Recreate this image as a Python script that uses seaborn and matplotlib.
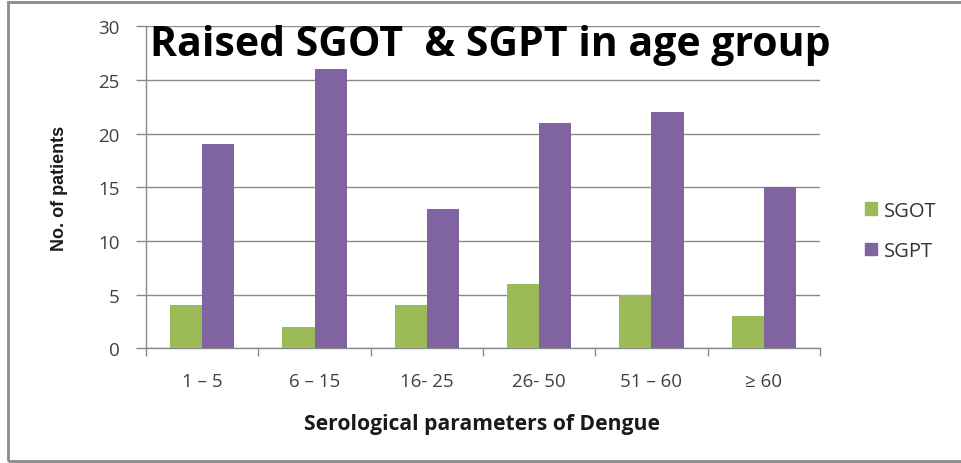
import matplotlib
matplotlib.use("Agg")
import matplotlib.pyplot as plt
import matplotlib.patches as mpatches
from matplotlib import font_manager
import seaborn as sns
import pandas as pd

categories = ["1 \u2013 5", "6 \u2013 15", "16- 25", "26- 50", "51 \u2013 60", "\u2265 60"]
sgot = [4, 2, 4, 6, 5, 3]
sgpt = [19, 26, 13, 21, 22, 15]
series = ["SGOT", "SGPT"]
colors = ["#9BBB59", "#8064A2"]
yticks = [0, 5, 10, 15, 20, 25, 30]

df = pd.DataFrame({
    "cat": categories * 2,
    "val": sgot + sgpt,
    "series": [series[0]] * len(categories) + [series[1]] * len(categories),
})

sns.set_style("white")
plt.rcParams["font.family"] = ["Open Sans", "DejaVu Sans"]

available = {f.name for f in font_manager.fontManager.ttflist}
if "Liberation Sans Narrow" in available:
    ylab_family, ylab_size = ["Liberation Sans Narrow", "DejaVu Sans"], 16.8
else:
    ylab_family, ylab_size = ["Liberation Sans", "DejaVu Sans"], 13

fig = plt.figure(figsize=(9.62, 4.64), dpi=100)
ax = fig.add_axes([146 / 962, 1 - 349.3 / 464, (820 - 146) / 962, (349.3 - 27.3) / 464])

sns.barplot(data=df, x="cat", y="val", hue="series", palette=colors, width=0.57,
            gap=0, ax=ax, saturation=1, legend=False, edgecolor="none", zorder=3)

ax.set_ylim(0, 30)
ax.set_xlim(-0.5, len(categories) - 0.5)
ax.set_yticks(yticks)
ax.set_yticklabels([str(t) for t in yticks], fontsize=13.5, color="#404040")
ax.yaxis.grid(True, color="#8a8a8a", lw=1, zorder=0)
ax.set_axisbelow(True)
for s in ["top", "right"]:
    ax.spines[s].set_visible(False)
for s in ["left", "bottom"]:
    ax.spines[s].set_color("#8a8a8a")
    ax.spines[s].set_linewidth(1)

ax.tick_params(axis="y", which="major", direction="out", length=7, width=1, color="#8a8a8a", pad=12, left=True)
ax.set_xticks(range(len(categories)))
ax.set_xticklabels(categories, fontsize=13.5, color="#404040")
ax.tick_params(axis="x", which="major", length=0, pad=17)
ax.set_xticks([i - 0.5 for i in range(len(categories) + 1)], minor=True)
ax.tick_params(axis="x", which="minor", direction="out", length=6, width=1, color="#8a8a8a", bottom=True)

ax.set_xlabel("")
ax.set_ylabel("")
fig.text(482 / 962, 1 - 425 / 464, "Serological parameters of Dengue", ha="center", va="center",
         fontsize=15.2, fontweight="bold", color="#1a1a1a")
fig.text(60 / 962, 1 - 188 / 464, "No. of patients", ha="center", va="center", rotation=90,
         fontsize=ylab_size, fontweight="bold", color="#1a1a1a", family=ylab_family)

fig.text(150 / 962, 1 - 56 / 464, "Raised SGOT  & SGPT in age group", ha="left", va="baseline",
         fontsize=29.5, fontweight="bold", color="black")

handles = [mpatches.Patch(color=c, label=l) for c, l in zip(colors, series)]
fig.legend(handles=handles, loc="center left", bbox_to_anchor=(847 / 962, 1 - 232 / 464),
           frameon=False, fontsize=14.5, handlelength=0.6, handleheight=0.6,
           labelspacing=1.0, handletextpad=0.35, labelcolor="#333333")

border = mpatches.Rectangle((8 / 962, 1 - 462 / 464), 1.1, (462 - 2.5) / 464,
                            transform=fig.transFigure, fill=False, edgecolor="#8a8a8a", lw=2)
fig.patches.append(border)

fig.savefig("out.png", dpi=100)
